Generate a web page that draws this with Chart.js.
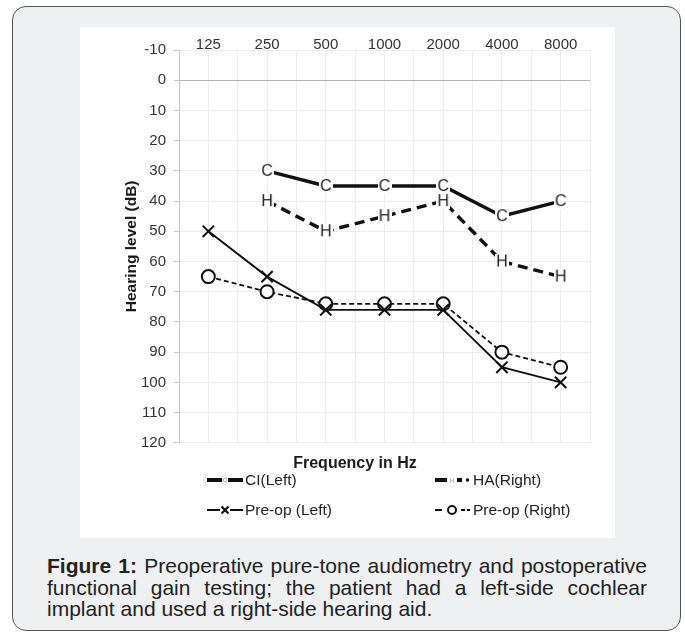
<!DOCTYPE html>
<html>
<head>
<meta charset="utf-8">
<script src="https://cdn.jsdelivr.net/npm/chart.js@4.4.1/dist/chart.umd.min.js"></script>
<style>
  body { margin: 0; background: #fff; font-family: "Liberation Sans", Arial, sans-serif; }
  #frame { position: absolute; left: 12px; top: 6px; width: 669px; height: 625px; box-sizing: border-box;
           border: 1.5px solid #555; border-radius: 14px; background: #eff0f2; }
  #panel { position: absolute; left: 80px; top: 27px; width: 535px; height: 511px; background: #fff; }
  #chartBox { position: absolute; left: 80px; top: 27px; width: 535px; height: 446px; }
  .leg { position: absolute; height: 20px; display: flex; align-items: center; font-size: 15.5px; color: #222; white-space: nowrap; }
  .leg svg { margin-right: 2px; }
  #caption { position: absolute; left: 47px; top: 555px; width: 600px; font-size: 21px; line-height: 21.5px;
             color: #222; text-align: justify; }
</style>
</head>
<body>
<div id="frame"></div>
<div id="panel"></div>
<div id="chartBox"><canvas id="audioChart"></canvas></div>

<div class="leg" style="left:207px; top:470px;">
  <svg width="36" height="10"><line x1="0" y1="5" x2="15" y2="5" stroke="#111" stroke-width="4"/><circle cx="18" cy="5" r="1.8" fill="none" stroke="#aaa" stroke-width="1"/><line x1="21" y1="5" x2="36" y2="5" stroke="#111" stroke-width="4"/></svg>CI(Left)
</div>
<div class="leg" style="left:435px; top:470px;">
  <svg width="36" height="10"><line x1="0" y1="5" x2="12" y2="5" stroke="#111" stroke-width="4"/><text x="17" y="8" font-size="7" fill="#aaa" text-anchor="middle">H</text><line x1="22" y1="5" x2="27" y2="5" stroke="#111" stroke-width="4"/><line x1="31" y1="5" x2="34" y2="5" stroke="#111" stroke-width="3"/></svg>HA(Right)
</div>
<div class="leg" style="left:207px; top:500px;">
  <svg width="36" height="10"><line x1="0" y1="5" x2="36" y2="5" stroke="#111" stroke-width="2"/><rect x="13" y="0" width="10" height="10" fill="#fff"/><path d="M14.5 1.5 L21.5 8.5 M21.5 1.5 L14.5 8.5" stroke="#111" stroke-width="2.2"/></svg>Pre-op (Left)
</div>
<div class="leg" style="left:435px; top:500px;">
  <svg width="36" height="10"><line x1="0" y1="5" x2="7" y2="5" stroke="#111" stroke-width="2"/><circle cx="17" cy="5" r="4" fill="#fff" stroke="#111" stroke-width="2"/><line x1="26" y1="5" x2="30" y2="5" stroke="#111" stroke-width="2"/><line x1="32" y1="5" x2="35" y2="5" stroke="#111" stroke-width="2"/></svg>Pre-op (Right)
</div>

<div id="caption"><b>Figure 1:</b> Preoperative pure-tone audiometry and postoperative functional gain testing; the patient had a left-side cochlear implant and used a right-side hearing aid.</div>

<script>
// frequencies (Hz) and hearing levels (dB)
const categories = ["125", "250", "500", "1000", "2000", "4000", "8000"];
const ciLeft = [null, 30, 35, 35, 35, 45, 40];
const haRight = [null, 40, 50, 45, 40, 60, 65];
const preopLeft = [50, 65, 76, 76, 76, 95, 100];
const preopRight = [65, 70, 74, 74, 74, 90, 95];
const yMin = -10, yMax = 120, yStep = 10;

const FONT = '"Liberation Sans", Arial, sans-serif';

// letter markers (C / H) drawn on a small white tile so the line breaks around them
function letterMarker(ch) {
    const c = document.createElement("canvas");
    c.width = 14;
    c.height = 16;
    const g = c.getContext("2d");
    g.fillStyle = "#fff";
    g.fillRect(0, 0, 14, 16);
    g.fillStyle = "#1c1c1c";
    g.font = "16px " + FONT;
    g.textAlign = "center";
    g.textBaseline = "middle";
    g.fillText(ch, 7, 9);
    return c;
}

const toPoints = vals => vals.map((v, i) => ({x: i, y: v}));

const ctx = document.getElementById("audioChart").getContext("2d");
new Chart(ctx, {
    type: "line",
    data: {
        datasets: [
            {
                label: "CI(Left)",
                data: toPoints(ciLeft),
                borderColor: "#111",
                borderWidth: 3.5,
                pointStyle: letterMarker("C"),
                pointRadius: 7
            },
            {
                label: "HA(Right)",
                data: toPoints(haRight),
                borderColor: "#111",
                borderWidth: 3.5,
                borderDash: [10, 6],
                pointStyle: letterMarker("H"),
                pointRadius: 7
            },
            {
                label: "Pre-op (Left)",
                data: toPoints(preopLeft),
                borderColor: "#111",
                borderWidth: 1.9,
                pointStyle: "crossRot",
                pointRadius: 8,
                pointBorderWidth: 2,
                pointBorderColor: "#111"
            },
            {
                label: "Pre-op (Right)",
                data: toPoints(preopRight),
                borderColor: "#111",
                borderWidth: 1.8,
                borderDash: [5, 3],
                pointStyle: "circle",
                pointRadius: 6.5,
                pointBorderWidth: 2,
                pointBorderColor: "#111",
                pointBackgroundColor: "#fff"
            }
        ]
    },
    options: {
        responsive: true,
        maintainAspectRatio: false,
        animation: false,
        layout: { padding: { left: 40, right: 25, top: 0, bottom: 0 } },
        elements: { line: { tension: 0, fill: false } },
        plugins: {
            legend: { display: false },
            tooltip: { enabled: false },
            title: {
                display: true,
                position: "bottom",
                text: "Frequency in Hz",
                color: "#1a1a1a",
                font: { family: FONT, size: 16, weight: "bold" },
                padding: { top: 11, bottom: 0 }
            }
        },
        scales: {
            x: {
                type: "linear",
                position: "top",
                min: -0.5,
                max: categories.length - 0.5,
                afterFit: s => { s.height = 23; },
                grid: { color: "#ededed", drawTicks: false },
                border: { display: false },
                ticks: {
                    stepSize: 0.5,
                    autoSkip: false,
                    maxRotation: 0,
                    padding: -4,
                    color: "#333",
                    font: { family: FONT, size: 15 },
                    callback: v => Number.isInteger(v) ? categories[v] : ""
                }
            },
            y: {
                reverse: true,
                min: yMin,
                max: yMax,
                afterFit: s => { s.width = 59; },
                grid: {
                    color: c => c.tick && c.tick.value === 0 ? "#b3b3b3" : "#ececec",
                    tickColor: "#c8c8c8",
                    tickLength: 5
                },
                border: { color: "#c8c8c8" },
                ticks: {
                    stepSize: yStep,
                    padding: 8,
                    color: "#333",
                    font: { family: FONT, size: 15 }
                },
                title: {
                    display: true,
                    text: "Hearing level (dB)",
                    color: "#1a1a1a",
                    font: { family: FONT, size: 15.5, weight: "bold" },
                    padding: { top: 2, bottom: 0 }
                }
            }
        }
    }
});
</script>
</body>
</html>
